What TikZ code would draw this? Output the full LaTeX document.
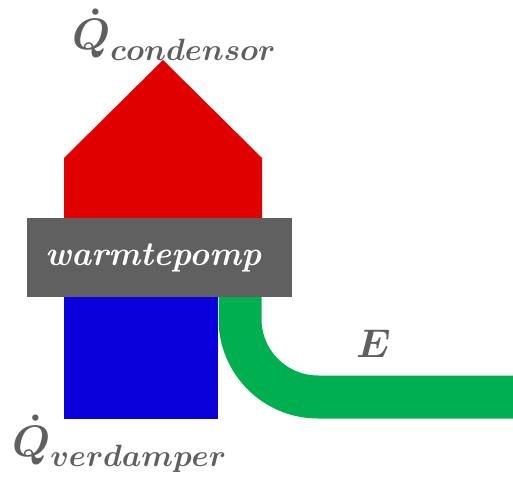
\RequirePackage{fix-cm}
\documentclass[tikz,border=0pt]{standalone}
\usepackage{amsmath,amssymb}
\definecolor{hpred}{RGB}{224,0,0}
\definecolor{hpblue}{RGB}{10,0,220}
\definecolor{hpgreen}{RGB}{0,176,80}
\definecolor{hpgrey}{RGB}{96,96,96}
\definecolor{txtgrey}{RGB}{95,95,95}
\newcommand{\labQc}{\fontsize{44}{44}\selectfont$\boldsymbol{\dot{Q}}_{\boldsymbol{condensor}}$}
\newcommand{\labQv}{\fontsize{44}{44}\selectfont$\boldsymbol{\dot{Q}}_{\boldsymbol{verdamper}}$}
\newcommand{\labE}{\fontsize{40}{40}\selectfont$\boldsymbol{E}$}
\newcommand{\labHP}{\fontsize{34}{34}\selectfont\bfseries\itshape warmtepomp\hspace*{12pt}}
\begin{document}
\begin{tikzpicture}[x=1pt,y=-1pt,
  lbl/.style={text=txtgrey, inner sep=0pt, anchor=base west},
  box/.style={fill=hpgrey, draw=none, minimum width=265pt, minimum height=79pt, inner sep=0pt, text=white}]
\useasboundingbox (0,0) rectangle (513,478);
% red arrow (condensor)
\fill[hpred] (64,218) -- (64,158) -- (163,60) -- (262,158) -- (262,218) -- cycle;
% blue block (verdamper)
\fill[hpblue] (64,297) rectangle (218,419);
% green pipe (E)
\draw[hpgreen, line width=43pt, line cap=butt, rounded corners=78pt] (240,290) -- (240,397) -- (514,397);
% heat pump box
\node[box] (hp) at (159.5,257.5) {\labHP};
% labels
\node[lbl] (qc) at (72,50) {\labQc};
\node[lbl] (qv) at (12,456) {\labQv};
\node[lbl] (en) at (356,357) {\labE};
\end{tikzpicture}
\end{document}
